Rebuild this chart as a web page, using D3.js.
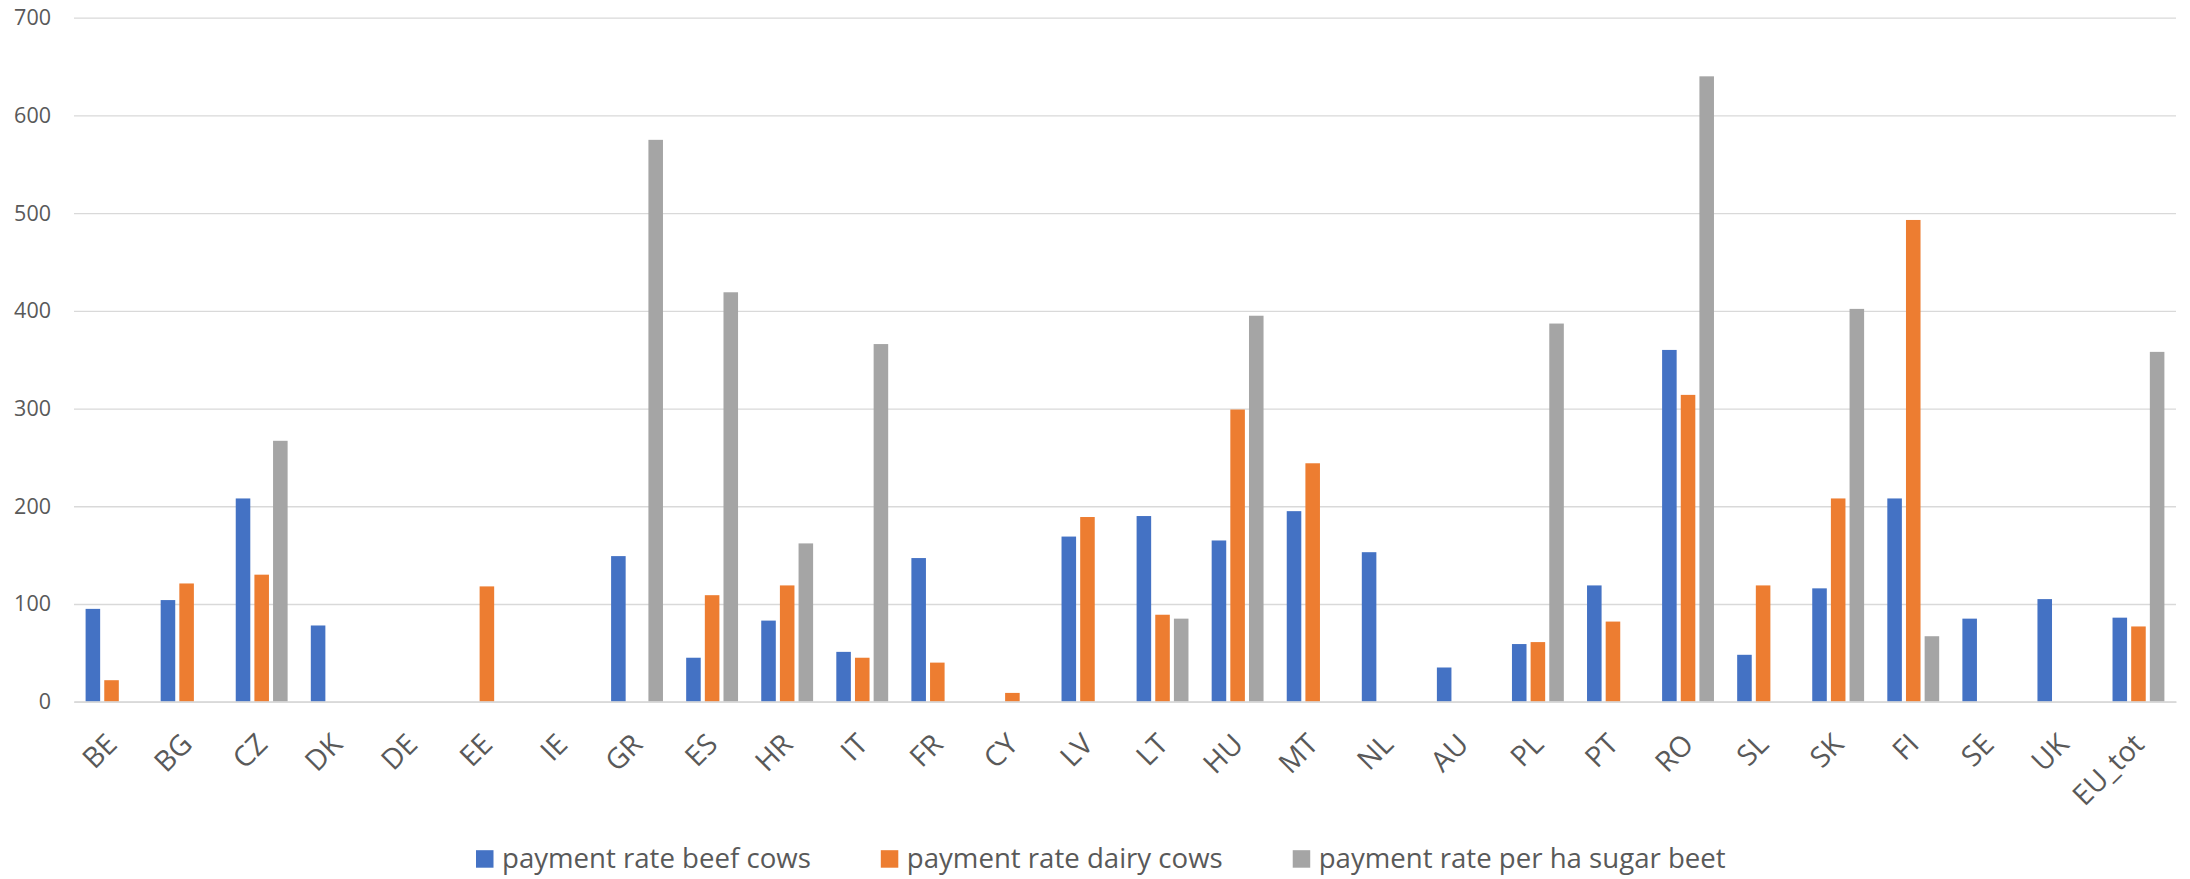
<!DOCTYPE html>
<html>
<head>
<meta charset="utf-8">
<script src="https://cdn.jsdelivr.net/npm/d3@7"></script>
<style>
  html, body { margin: 0; padding: 0; background: #ffffff; }
  svg { display: block; }
  text { font-family: "Open Sans", "DejaVu Sans", sans-serif; fill: #595959; }
</style>
</head>
<body>
<svg id="chart" width="2190" height="879"></svg>
<script>
// Member states plus the EU total
const categories = ["BE","BG","CZ","DK","DE","EE","IE","GR","ES","HR","IT","FR","CY","LV","LT","HU","MT","NL","AU","PL","PT","RO","SL","SK","FI","SE","UK","EU_tot"];

// Coupled support payment rates (null = no payment)
const beefCows = [95,104,208,78,null,null,null,149,45,83,51,147,null,169,190,165,195,153,35,59,119,360,48,116,208,85,105,86];
const dairyCows = [22,121,130,null,null,118,null,null,109,119,45,40,9,189,89,299,244,null,null,61,82,314,119,208,493,null,null,77];
const sugarBeet = [null,null,267,null,null,null,null,575,419,162,366,null,null,null,85,395,null,null,null,387,null,640,null,402,67,null,null,358];

const seriesNames = ["payment rate beef cows","payment rate dairy cows","payment rate per ha sugar beet"];
const seriesColors = ["#4472C4","#ED7D31","#A5A5A5"];
const yTicks = [0,100,200,300,400,500,600,700];

const seriesValues = [beefCows, dairyCows, sugarBeet];

const svg = d3.select("#chart");
const plot = { left: 74, right: 2176, top: 17.7, bottom: 701.7 };

const x = d3.scaleBand().domain(categories).range([plot.left, plot.right]).paddingInner(0).paddingOuter(0);
const groupInset = 11.6;
const xInner = d3.scaleBand()
  .domain(d3.range(seriesNames.length))
  .range([groupInset, x.bandwidth() - groupInset])
  .paddingInner(0.22).paddingOuter(0);
const y = d3.scaleLinear().domain([0, 700]).range([plot.bottom, plot.top]);

// Gridlines and value labels
const yAxis = svg.append("g")
  .attr("transform", `translate(${plot.left},0)`)
  .call(d3.axisLeft(y).tickValues(yTicks).tickSizeInner(-(plot.right - plot.left)).tickSizeOuter(0).tickPadding(23));
yAxis.select(".domain").remove();
yAxis.selectAll(".tick line").attr("stroke", "#d9d9d9").attr("stroke-width", 1.3);
yAxis.selectAll(".tick text")
  .attr("font-size", 21.5)
  .style("font-family", "'Open Sans', sans-serif")
  .attr("fill", "#595959");

// Bars
const rows = [];
categories.forEach((c, i) => {
  seriesValues.forEach((vals, s) => {
    if (vals[i] != null) rows.push({ cat: c, s, v: vals[i] });
  });
});
svg.append("g").selectAll("rect").data(rows).join("rect")
  .attr("x", d => x(d.cat) + xInner(d.s))
  .attr("width", xInner.bandwidth())
  .attr("y", d => y(d.v))
  .attr("height", d => y(0) - y(d.v))
  .attr("fill", d => seriesColors[d.s]);

// Category axis with slanted labels
const xAxis = svg.append("g")
  .attr("transform", `translate(0,${plot.bottom})`)
  .call(d3.axisBottom(x).tickSize(0).tickSizeOuter(0));
xAxis.select(".domain").attr("stroke", "#d9d9d9").attr("stroke-width", 1.8);
xAxis.selectAll(".tick text")
  .attr("font-size", 28.5)
  .style("font-family", "'Open Sans', sans-serif")
  .attr("fill", "#595959")
  .attr("text-anchor", "end")
  .attr("y", 0)
  .attr("dy", "0.36em")
  .attr("transform", "translate(0,37) rotate(-45)");

// Legend
const legend = svg.append("g");
let lx = 476;
const swatch = 17.5, legendBase = 867.7;
seriesNames.forEach((name, i) => {
  const item = legend.append("g");
  item.append("rect")
    .attr("x", lx).attr("y", legendBase - swatch)
    .attr("width", swatch).attr("height", swatch)
    .attr("fill", seriesColors[i]);
  const t = item.append("text")
    .attr("x", lx + swatch + 8.5).attr("y", legendBase)
    .attr("font-size", 27.6)
    .text(name);
  lx += swatch + 8.5 + t.node().getComputedTextLength() + 70;
});
</script>
</body>
</html>
